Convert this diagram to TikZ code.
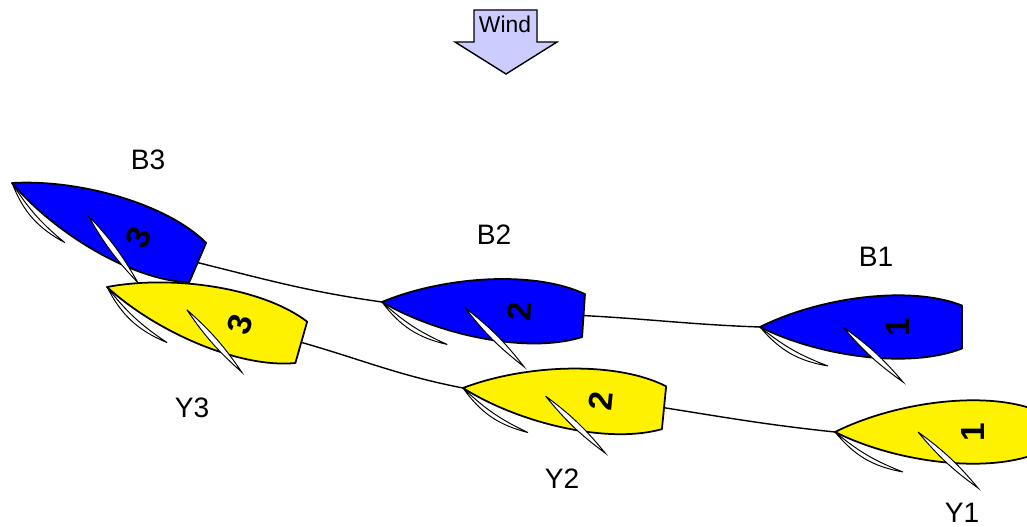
\documentclass[tikz,border=0pt]{standalone}
\usepackage{fontspec}
\setmainfont{Liberation Sans}
\definecolor{windblue}{RGB}{204,204,255}

\begin{document}
\begin{tikzpicture}[x=0.02cm, y=-0.02cm,
  hull/.style={draw=black, line width=1pt, line join=round},
  sail/.style={draw=black, fill=white, line width=0.55pt},
  num/.style={font=\fontsize{19}{19}\selectfont\bfseries, rotate=90, inner sep=0pt},
  boatname/.style={font=\fontsize{16}{16}\selectfont},
  track/.style={draw=black, line width=0.8pt}]

  \useasboundingbox (0,0) rectangle (1027,527);
  \clip (0,0) rectangle (1027,527);

  % wind
  \draw [fill=windblue, line width=0.8pt] (474,10) -- (537,10) -- (537,42) -- (557,42) -- (506,74) -- (455,42) -- (474,42) -- cycle;
  \node [font=\fontsize{13}{13}\selectfont] (wind) at (505,24) {Wind};

  % blue boats
  \begin{scope}[shift={(12,183)}, rotate=-23.2, transform shape]
    \coordinate (b3bow) at (0,0);
    \coordinate (b3stern) at (202,0);
    \draw [hull, fill=blue] (0,0) .. controls (60,-30) and (150,-42) .. (202,-21.5) -- (202,21.5) .. controls (150,42) and (60,30) .. (0,0) -- cycle;
    \node [num] (b3num) at (138,0) {3};
    \draw [sail] (0,0) to [bend right=20] (72,34) to [bend left=9] (0,0);
    \draw [sail] (83,0) to [bend left=7] (155,42) to [bend left=7] (83,0);
  \end{scope}

  \begin{scope}[shift={(382,302)}, rotate=-3.85, transform shape]
    \coordinate (b2bow) at (0,0);
    \coordinate (b2stern) at (202,0);
    \draw [hull, fill=blue] (0,0) .. controls (60,-30) and (150,-42) .. (202,-21.5) -- (202,21.5) .. controls (150,42) and (60,30) .. (0,0) -- cycle;
    \node [num] (b2num) at (138,0) {2};
    \draw [sail] (0,0) to [bend right=20] (68,38) to [bend left=9] (0,0);
    \draw [sail] (83,0) to [bend left=7] (146,55) to [bend left=7] (83,0);
  \end{scope}

  \begin{scope}[shift={(760,327)}, transform shape]
    \coordinate (b1bow) at (0,0);
    \coordinate (b1stern) at (202,0);
    \draw [hull, fill=blue] (0,0) .. controls (60,-30) and (150,-42) .. (202,-21.5) -- (202,21.5) .. controls (150,42) and (60,30) .. (0,0) -- cycle;
    \node [num] (b1num) at (138,0) {1};
    \draw [sail] (0,0) to [bend right=20] (68,39) to [bend left=9] (0,0);
    \draw [sail] (83,0) to [bend left=7] (143,55) to [bend left=7] (83,0);
  \end{scope}

  % yellow boats
  \begin{scope}[shift={(107,287)}, rotate=-15.9, transform shape]
    \coordinate (y3bow) at (0,0);
    \coordinate (y3stern) at (202,0);
    \draw [hull, fill=yellow] (0,0) .. controls (60,-30) and (150,-42) .. (202,-21.5) -- (202,21.5) .. controls (150,42) and (60,30) .. (0,0) -- cycle;
    \node [num] (y3num) at (138,0) {3};
    \draw [sail] (0,0) to [bend right=20] (73,37) to [bend left=9] (0,0);
    \draw [sail] (83,0) to [bend left=7] (153,45) to [bend left=7] (83,0);
  \end{scope}

  \begin{scope}[shift={(463,388)}, rotate=-5.6, transform shape]
    \coordinate (y2bow) at (0,0);
    \coordinate (y2stern) at (202,0);
    \draw [hull, fill=yellow] (0,0) .. controls (60,-30) and (150,-42) .. (202,-21.5) -- (202,21.5) .. controls (150,42) and (60,30) .. (0,0) -- cycle;
    \node [num] (y2num) at (138,0) {2};
    \draw [sail] (0,0) to [bend right=20] (69,38) to [bend left=9] (0,0);
    \draw [sail] (83,0) to [bend left=7] (148,51) to [bend left=7] (83,0);
  \end{scope}

  \begin{scope}[shift={(835,432)}, transform shape]
    \coordinate (y1bow) at (0,0);
    \coordinate (y1stern) at (202,0);
    \draw [hull, fill=yellow] (0,0) .. controls (60,-30) and (150,-42) .. (202,-21.5) -- (202,21.5) .. controls (150,42) and (60,30) .. (0,0) -- cycle;
    \node [num] (y1num) at (138,0) {1};
    \draw [sail] (0,0) to [bend right=20] (68,40) to [bend left=9] (0,0);
    \draw [sail] (83,0) to [bend left=7] (143,56) to [bend left=7] (83,0);
  \end{scope}

  % tracks
  \draw [track] (b3stern) to [out=-14, in=172] (b2bow);
  \draw [track] (b2stern) to [out=-3, in=178] (b1bow);
  \draw [track] (y3stern) to [out=-16, in=169] (y2bow);
  \draw [track] (y2stern) to [out=-9, in=174] (y1bow);

  % names
  \node [boatname] (b3name) at (148,160) {B3};
  \node [boatname] (b2name) at (494,235) {B2};
  \node [boatname] (b1name) at (876,257) {B1};
  \node [boatname] (y3name) at (192,408) {Y3};
  \node [boatname] (y2name) at (562,479) {Y2};
  \node [boatname] (y1name) at (962,513) {Y1};
\end{tikzpicture}
\end{document}
